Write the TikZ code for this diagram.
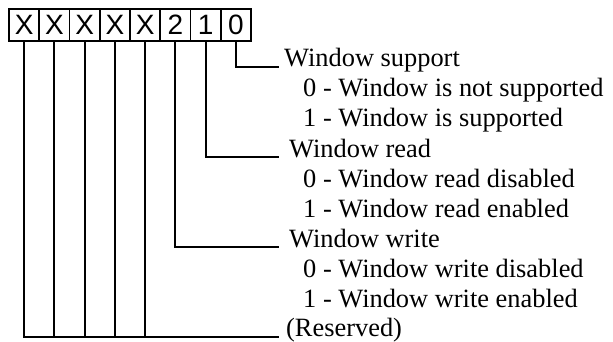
\documentclass[tikz,border=0pt]{standalone}
\usepackage{fontspec}
\setmainfont{Liberation Serif}
\newfontfamily\boxfont{Liberation Sans}
\begin{document}
\begin{tikzpicture}[x=1pt,y=-1pt,
  cell/.style={draw,line width=1.6pt,minimum width=30.25pt,minimum height=32pt,inner sep=0pt,font=\boxfont\fontsize{28}{28}\selectfont},
  lbl/.style={anchor=base west,inner sep=0pt,font=\fontsize{26.4}{30}\selectfont},
  wire/.style={line width=2pt}]
\useasboundingbox (0,0) rectangle (613,341);
\foreach \t [count=\i from 0] in {X,X,X,X,X,2,1,0}
  \node[cell] (c\i) at ({9+30.25*(\i+0.5)},25) {\t};
% labels
\node[lbl] (h0) at (284,66) {Window support};
\node[lbl] (s00) at (303,96) {0 - Window is not supported};
\node[lbl] (s01) at (303,126) {1 - Window is supported};
\node[lbl] (h1) at (289,157) {Window read};
\node[lbl] (s10) at (303,187) {0 - Window read disabled};
\node[lbl] (s11) at (303,217) {1 - Window read enabled};
\node[lbl] (h2) at (289,247) {Window write};
\node[lbl] (s20) at (303,277) {0 - Window write disabled};
\node[lbl] (s21) at (303,307) {1 - Window write enabled};
\node[lbl] (h3) at (286,336) {(Reserved)};
% end points
\coordinate (e0) at (279,67);
\coordinate (e1) at (279,157);
\coordinate (e2) at (279,247);
\coordinate (e3) at (279,337);
\draw[wire] (c7.south) |- (e0);
\draw[wire] (c6.south) |- (e1);
\draw[wire] (c5.south) |- (e2);
\draw[wire] (c0.south) |- (e3);
\foreach \i in {1,2,3,4}
  \draw[wire] (c\i.south) -- (c\i.south |- e3);
\end{tikzpicture}
\end{document}
